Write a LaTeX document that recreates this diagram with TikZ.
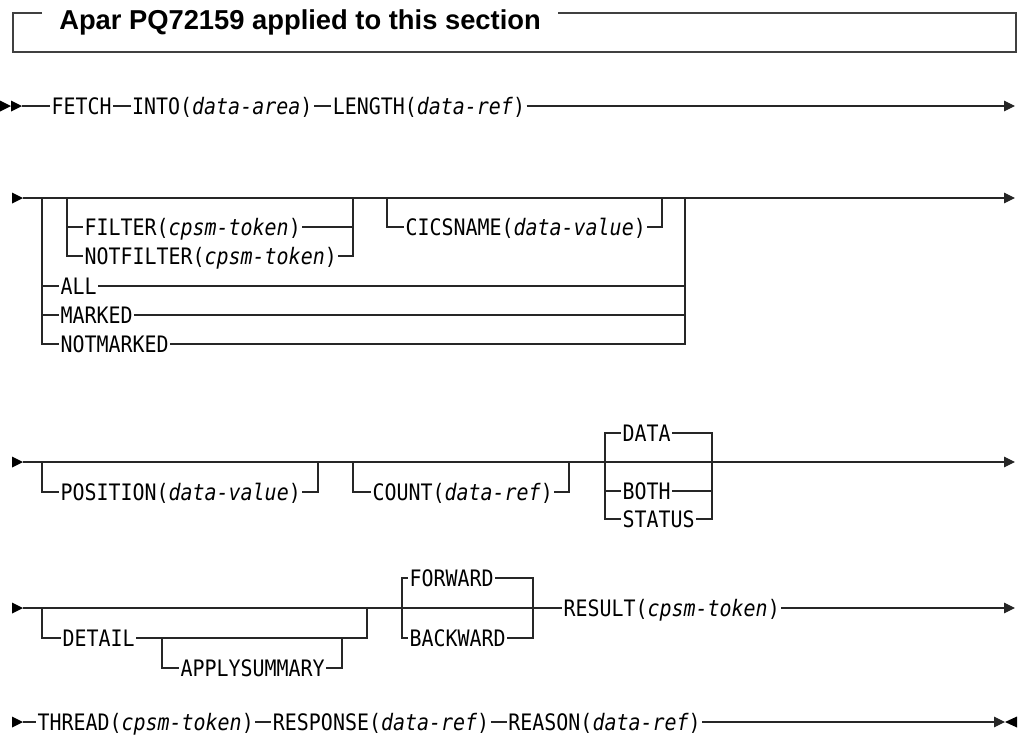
\documentclass[tikz,border=0pt]{standalone}
\usepackage{fontspec}
\usetikzlibrary{arrows.meta}
\usetikzlibrary{positioning}
\newfontfamily\synfont[FakeStretch=0.88,ItalicFont={DejaVu Sans Mono Oblique}]{DejaVu Sans Mono}
\newfontfamily\titlefont{Liberation Sans}
\newcommand\var[1]{\textit{#1}}
\tikzset{
  rail/.style={line width=0.8pt, black!85},
  railend/.style={rail, -{Triangle[length=8.25pt,width=8pt]}},
  kw/.style={font=\synfont\fontsize{17pt}{19pt}\selectfont, anchor=west,
    inner xsep=1pt, inner ysep=0pt, text height=12.39pt, text depth=0pt},
}
\begin{document}
\begin{tikzpicture}[x=0.75pt,y=-0.75pt]
		\useasboundingbox (0,0) rectangle (1018,736);
		% header box
		\coordinate (boxtop) at (0,13);
		\node[anchor=base west, inner xsep=12.75pt, inner ysep=0pt,
		  font=\titlefont\bfseries\fontsize{20.5pt}{24pt}\selectfont] (apar) at (42,29.5) {Apar PQ72159 applied to this section};
		\draw[line width=0.9pt, black!75] (apar.west |- boxtop) -| (13,52) -| (1016,13) -- (apar.east |- boxtop);

		% FETCH INTO LENGTH
		\fill (0,100.5) -- (11,106) -- (0,111.5) -- cycle;
		\fill (11,100.5) -- (22,106) -- (11,111.5) -- cycle;
		\coordinate (r1s) at (22,106);
		\coordinate (r1e) at (1015,106);
		\node[kw] (fetch) at (50,106) {FETCH};
		\node[kw, right=13pt of fetch] (into) {INTO(\var{data-area})};
		\node[kw, right=13pt of into] (length) {LENGTH(\var{data-ref})};
		\draw[rail] (r1s) -- (fetch);
		\draw[rail] (fetch) -- (into);
		\draw[rail] (into) -- (length);
		\draw[railend] (length) -- (r1e);

		% filter / cicsname / all / marked / notmarked
		\fill (12,192.5) -- (23,198) -- (12,203.5) -- cycle;
		\coordinate (r2s) at (23,198);
		\coordinate (r2a) at (42,198);
		\coordinate (r2b) at (67,198);
		\coordinate (r2c) at (353,198);
		\coordinate (r2d) at (387,198);
		\coordinate (r2f) at (662,198);
		\coordinate (r2g) at (685,198);
		\coordinate (r2e) at (1015,198);
		\draw[railend] (r2s) -- (r2e);
		\node[kw] (filter) at (83,227) {FILTER(\var{cpsm-token})};
		\node[kw] (notfilter) at (83,256) {NOTFILTER(\var{cpsm-token})};
		\node[kw] (cics) at (404,227) {CICSNAME(\var{data-value})};
		\node[kw] (all) at (59,286) {ALL};
		\node[kw] (marked) at (59,315) {MARKED};
		\node[kw] (notmarked) at (59,344) {NOTMARKED};
		\draw[rail] (r2b) |- (filter);
		\draw[rail] (r2b) |- (notfilter);
		\draw[rail] (filter) -| (r2c);
		\draw[rail] (notfilter) -| (r2c);
		\draw[rail] (r2d) |- (cics);
		\draw[rail] (cics) -| (r2f);
		\draw[rail] (r2a) |- (all);
		\draw[rail] (r2a) |- (marked);
		\draw[rail] (r2a) |- (notmarked);
		\draw[rail] (all) -| (r2g);
		\draw[rail] (marked) -| (r2g);
		\draw[rail] (notmarked) -| (r2g);

		% position / count / data both status
		\fill (12,456.5) -- (23,462) -- (12,467.5) -- cycle;
		\coordinate (r3s) at (23,462);
		\coordinate (r3a) at (42,462);
		\coordinate (r3b) at (318,462);
		\coordinate (r3c) at (353,462);
		\coordinate (r3d) at (569,462);
		\coordinate (r3f) at (605,462);
		\coordinate (r3g) at (712,462);
		\coordinate (r3e) at (1015,462);
		\draw[railend] (r3s) -- (r3e);
		\node[kw] (position) at (59,492) {POSITION(\var{data-value})};
		\node[kw] (count) at (371,492) {COUNT(\var{data-ref})};
		\node[kw] (data) at (621,433) {DATA};
		\node[kw] (both) at (621,491) {BOTH};
		\node[kw] (status) at (621,519) {STATUS};
		\draw[rail] (r3a) |- (position);
		\draw[rail] (position) -| (r3b);
		\draw[rail] (r3c) |- (count);
		\draw[rail] (count) -| (r3d);
		\draw[rail] (r3f) |- (data);
		\draw[rail] (r3f) |- (both);
		\draw[rail] (r3f) |- (status);
		\draw[rail] (data) -| (r3g);
		\draw[rail] (both) -| (r3g);
		\draw[rail] (status) -| (r3g);

		% detail / applysummary / forward backward / result
		\fill (12,602.5) -- (23,608) -- (12,613.5) -- cycle;
		\coordinate (r4s) at (23,608);
		\coordinate (r4a) at (42,608);
		\coordinate (r4b) at (367,608);
		\coordinate (r4c) at (162,638);
		\coordinate (r4d) at (342,638);
		\coordinate (r4f) at (402,608);
		\coordinate (r4g) at (533,608);
		\coordinate (r4e) at (1015,608);
		\node[kw] (detail) at (61,638) {DETAIL};
		\node[kw] (apply) at (179,668) {APPLYSUMMARY};
		\node[kw] (forward) at (408,578) {FORWARD};
		\node[kw] (backward) at (408,638) {BACKWARD};
		\node[kw] (result) at (562,608) {RESULT(\var{cpsm-token})};
		\draw[rail] (r4s) -- (result);
		\draw[railend] (result) -- (r4e);
		\draw[rail] (r4a) |- (detail);
		\draw[rail] (detail) -| (r4b);
		\draw[rail] (r4c) |- (apply);
		\draw[rail] (apply) -| (r4d);
		\draw[rail] (r4f) |- (forward);
		\draw[rail] (r4f) |- (backward);
		\draw[rail] (forward) -| (r4g);
		\draw[rail] (backward) -| (r4g);

		% thread response reason
		\fill (12,716.5) -- (23,722) -- (12,727.5) -- cycle;
		\coordinate (r5s) at (23,722);
		\coordinate (r5e) at (1005,722);
		\node[kw] (thread) at (36,722) {THREAD(\var{cpsm-token})};
		\node[kw, right=12pt of thread] (response) {RESPONSE(\var{data-ref})};
		\node[kw, right=12pt of response] (reason) {REASON(\var{data-ref})};
		\draw[rail] (r5s) -- (thread);
		\draw[rail] (thread) -- (response);
		\draw[rail] (response) -- (reason);
		\draw[railend] (reason) -- (r5e);
		\fill (1005,722) -- (1017,716.5) -- (1017,727.5) -- cycle;
	\end{tikzpicture}
\end{document}
